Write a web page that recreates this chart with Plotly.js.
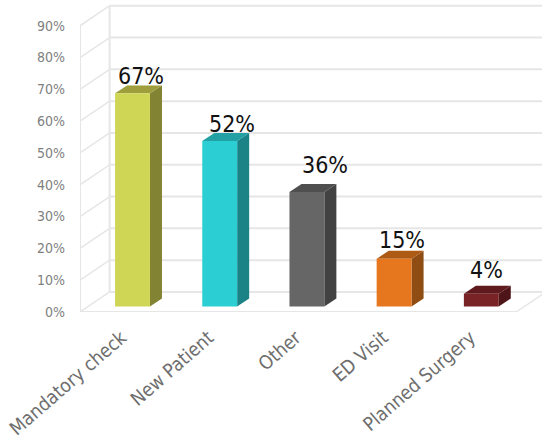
<!DOCTYPE html>
<html>
<head>
<meta charset="utf-8">
<script src="https://cdn.plot.ly/plotly-3.0.1.min.js"></script>
<style>html,body{margin:0;padding:0;background:#fff}#chart{width:542px;height:442px}</style>
</head>
<body>
<div id="chart"></div>
<script>
// Visit reasons, percent of patients
const categories = ['Mandatory check', 'New Patient', 'Other', 'ED Visit', 'Planned Surgery'];
const values = [67, 52, 36, 15, 4];
const frontColors = ['#CFD655', '#2BCFD3', '#666666', '#E6771F', '#7A2327'];
const sideColors = ['#828333', '#1B8285', '#424242', '#8F4D14', '#4D1518'];
const topColors = ['#9E9E3C', '#22A0A3', '#4F4F4F', '#AD5A15', '#5E1A1D'];
const gridValues = [0, 10, 20, 30, 40, 50, 60, 70, 80, 90];

// Per-label nudges for the value captions, in pixels
const labelShiftX = [8, 12, 18, 8, 5];
const labelShiftY = [2, 2, 12, 4, 9];

// Pseudo-3D geometry, in axis units
const barWidth = 0.40;
const barDepthX = 0.138, barDepthY = 2.5;   // extrusion of each bar
const wallDepthX = 0.34, wallDepthY = 6.3;  // depth of the floor and side wall
const barBase = 1.75;                       // bars stand slightly behind the front edge
const xMin = -0.602, xMax = 4.696, yMax = 98.1;
const floorEndX = 4.4;

const wallColor = '#E6E6E6';
const shapes = [];

function line(x0, y0, x1, y1, color, width) {
  shapes.push({type: 'line', xref: 'x', yref: 'y', x0, y0, x1, y1, layer: 'below',
               line: {color: color, width: width}});
}
function poly(points, color) {
  const path = points.map((p, i) => (i ? 'L' : 'M') + p[0] + ',' + p[1]).join(' ') + ' Z';
  shapes.push({type: 'path', xref: 'x', yref: 'y', path, fillcolor: color, layer: 'below',
               line: {width: 0}});
}

// Back wall gridlines and the matching diagonals on the side wall
const wallX = xMin + wallDepthX;
gridValues.forEach(v => {
  line(wallX, v + wallDepthY, xMax, v + wallDepthY, wallColor, 2);
  line(xMin, v, wallX, v + wallDepthY, wallColor, 1.5);
});
const topGrid = gridValues[gridValues.length - 1];
line(xMin, 0, xMin, topGrid, wallColor, 2);
line(wallX, wallDepthY, wallX, topGrid + wallDepthY, wallColor, 2);
line(xMin, 0, floorEndX, 0, wallColor, 2);
line(floorEndX, 0, floorEndX + wallDepthX, wallDepthY, wallColor, 1.5);

// Side and top faces of each bar
values.forEach((v, i) => {
  const r = i + barWidth / 2, l = i - barWidth / 2, t = barBase + v;
  poly([[r, barBase], [r + barDepthX, barBase + barDepthY], [r + barDepthX, t + barDepthY], [r, t]], sideColors[i]);
  poly([[l, t], [l + barDepthX, t + barDepthY], [r + barDepthX, t + barDepthY], [r, t]], topColors[i]);
});

const positions = categories.map((_, i) => i);

const trace = {
  type: 'bar',
  x: positions,
  y: values,
  base: barBase,
  width: barWidth,
  marker: {color: frontColors, line: {width: 0}},
  hoverinfo: 'skip'
};

const condensed = '"DejaVu Sans Condensed", "DejaVu Sans", sans-serif';

const annotations = values.map((v, i) => ({
  x: i, y: barBase + v, xref: 'x', yref: 'y',
  text: v + '%', showarrow: false,
  xanchor: 'center', yanchor: 'bottom',
  xshift: labelShiftX[i], yshift: labelShiftY[i],
  font: {family: condensed, size: 23, color: '#111111'}
}));

const layout = {
  width: 542, height: 442,
  margin: {l: 80, r: 0, t: 0, b: 130, pad: 0},
  paper_bgcolor: '#FFFFFF', plot_bgcolor: '#FFFFFF',
  showlegend: false,
  xaxis: {
    type: 'linear', range: [xMin, xMax],
    tickmode: 'array', tickvals: positions, ticktext: categories,
    tickangle: -41, ticks: '', showgrid: false, zeroline: false, showline: false,
    ticklabelstandoff: 10,
    ticklabelshift: -11,
    tickfont: {family: condensed, size: 19, color: '#6E6E6E'}
  },
  yaxis: {
    range: [0, yMax],
    tickmode: 'array', tickvals: gridValues, ticktext: gridValues.map(v => v + '%'),
    ticks: '', showgrid: false, zeroline: false, showline: false,
    ticklabelstandoff: 14,
    tickfont: {family: condensed, size: 14, color: '#7F7F7F'}
  },
  shapes, annotations
};

Plotly.newPlot('chart', [trace], layout, {displayModeBar: false, staticPlot: true});
</script>
</body>
</html>
